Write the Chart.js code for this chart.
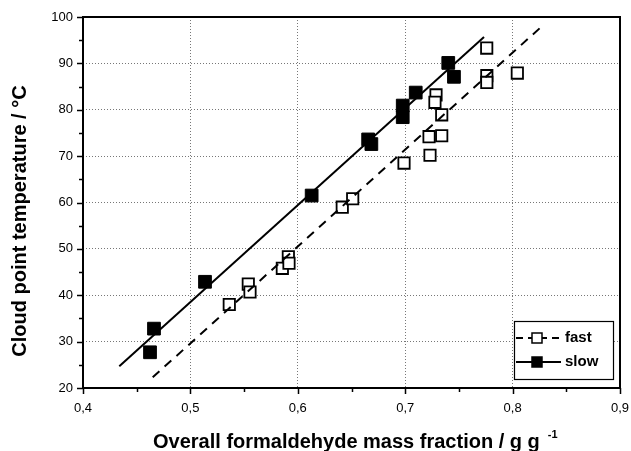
<!DOCTYPE html>
<html>
<head>
<meta charset="utf-8">
<script src="https://cdn.jsdelivr.net/npm/chart.js@4/dist/chart.umd.min.js"></script>
<style>
  html, body { margin: 0; padding: 0; background: #fff; }
  canvas { display: block; }
</style>
</head>
<body>
<canvas id="cloudChart" width="631" height="451"></canvas>
<script>
// Cloud point data
const fastX = [0.5362, 0.5539, 0.5555, 0.5856, 0.5912, 0.5918, 0.6414, 0.6511, 0.6989, 0.7222, 0.7231, 0.734, 0.734, 0.7287, 0.7277, 0.7759, 0.776, 0.776, 0.8044];
const fastY = [38.0, 42.4, 40.7, 45.8, 48.3, 46.9, 59.0, 60.8, 68.5, 74.2, 70.2, 74.4, 78.9, 83.2, 81.6, 93.3, 87.35, 85.9, 87.9];
const slowX = [0.4624, 0.4661, 0.5136, 0.6129, 0.6655, 0.6685, 0.6977, 0.6977, 0.7098, 0.7401, 0.7454];
const slowY = [27.7, 32.8, 42.9, 61.5, 73.6, 72.6, 80.9, 78.4, 83.7, 90.1, 87.1];

// fitted lines (end points)
const fastFitX = [0.4649, 0.8292];
const fastFitY = [22.3, 98.4];
const slowFitX = [0.4338, 0.7734];
const slowFitY = [24.7, 95.7];

const xTicks = [0.4, 0.5, 0.6, 0.7, 0.8, 0.9];
const yTicks = [20, 30, 40, 50, 60, 70, 80, 90, 100];

const pts = (xs, ys) => xs.map((x, i) => ({x: x, y: ys[i]}));
const isMajor = (v, list) => list.some(t => Math.abs(t - v) < 1e-6);

const FONT = '"Liberation Sans", Arial, sans-serif';

// frame, tick marks, axis titles and legend
const decor = {
  id: 'decor',
  afterDraw(chart) {
    const ctx = chart.ctx;
    const a = chart.chartArea;
    const xs = chart.scales.x, ys = chart.scales.y;
    ctx.save();
    ctx.strokeStyle = '#000';
    ctx.lineWidth = 1.5;
    // minor / major ticks
    ctx.beginPath();
    xs.ticks.forEach(t => {
      const px = Math.round(xs.getPixelForValue(t.value)) + 0.5;
      const len = isMajor(t.value, xTicks) ? 6 : 4;
      ctx.moveTo(px, a.bottom); ctx.lineTo(px, a.bottom + len);
    });
    ys.ticks.forEach(t => {
      const py = Math.round(ys.getPixelForValue(t.value)) + 0.5;
      const len = isMajor(t.value, yTicks) ? 6 : 4;
      ctx.moveTo(a.left, py); ctx.lineTo(a.left - len, py);
    });
    ctx.stroke();
    // frame
    ctx.lineWidth = 2;
    ctx.strokeRect(a.left, a.top, a.right - a.left, a.bottom - a.top);

    // legend
    const lx = 514.5, ly = 321.5, lw = 99, lh = 58;
    ctx.fillStyle = '#fff';
    ctx.fillRect(lx, ly, lw, lh);
    ctx.lineWidth = 1.2;
    ctx.strokeRect(lx, ly, lw, lh);
    const rows = [{y: 338, dash: [7, 5], fill: '#fff', label: 'fast'},
                  {y: 362, dash: [], fill: '#000', label: 'slow'}];
    rows.forEach(r => {
      ctx.setLineDash(r.dash);
      ctx.lineWidth = 2;
      ctx.beginPath();
      ctx.moveTo(516, r.y); ctx.lineTo(561, r.y);
      ctx.stroke();
      ctx.setLineDash([]);
      ctx.fillStyle = r.fill;
      ctx.fillRect(532, r.y - 5, 10, 10);
      ctx.lineWidth = 1.5;
      ctx.strokeRect(532, r.y - 5, 10, 10);
      ctx.fillStyle = '#000';
      ctx.font = 'bold 15px ' + FONT;
      ctx.textBaseline = 'middle';
      ctx.textAlign = 'left';
      ctx.fillText(r.label, 565, r.y);
    });

    // axis titles
    ctx.fillStyle = '#000';
    ctx.font = 'bold 20px ' + FONT;
    ctx.textBaseline = 'alphabetic';
    ctx.textAlign = 'left';
    const xt = 'Overall formaldehyde mass fraction / g g';
    ctx.fillText(xt, 153, 448);
    const w = ctx.measureText(xt).width;
    ctx.font = 'bold 11px ' + FONT;
    ctx.fillText('-1', 153 + w + 8, 438);

    ctx.translate(26, 221);
    ctx.rotate(-Math.PI / 2);
    ctx.font = 'bold 20px ' + FONT;
    ctx.textAlign = 'center';
    ctx.fillText('Cloud point temperature / °C', 0, 0);
    ctx.restore();
  }
};

new Chart('cloudChart', {
  type: 'scatter',
  data: {
    datasets: [{
      type: 'line',
      label: 'fast fit',
      data: pts(fastFitX, fastFitY),
      borderColor: '#000',
      borderWidth: 2,
      borderDash: [9, 7],
      pointRadius: 0,
      fill: false
    }, {
      type: 'line',
      label: 'slow fit',
      data: pts(slowFitX, slowFitY),
      borderColor: '#000',
      borderWidth: 2,
      pointRadius: 0,
      fill: false
    }, {
      label: 'fast',
      data: pts(fastX, fastY),
      pointStyle: 'rect',
      pointRadius: 8,
      pointBackgroundColor: '#fff',
      pointBorderColor: '#000',
      pointBorderWidth: 1.8
    }, {
      label: 'slow',
      data: pts(slowX, slowY),
      pointStyle: 'rect',
      pointRadius: 9,
      pointBackgroundColor: '#000',
      pointBorderColor: '#000',
      pointBorderWidth: 1
    }]
  },
  options: {
    responsive: false,
    animation: false,
    devicePixelRatio: 1,
    layout: { padding: { left: 0, right: 11, top: 17, bottom: 0 } },
    plugins: {
      legend: { display: false },
      tooltip: { enabled: false }
    },
    scales: {
      x: {
        type: 'linear',
        min: 0.4, max: 0.9,
        afterFit: (s) => { s.height = 63; s.paddingLeft = 0; s.paddingRight = 0; },
        afterBuildTicks: (s) => {
          s.ticks = [];
          for (let i = 0; i <= 10; i++) s.ticks.push({value: 0.4 + i * 0.05});
        },
        ticks: {
          autoSkip: false, maxRotation: 0, padding: 13,
          color: '#000',
          font: { family: FONT, size: 13 },
          callback: (v) => isMajor(v, xTicks) ? v.toFixed(1).replace('.', ',') : ''
        },
        grid: {
          drawTicks: false,
          lineWidth: 1,
          color: (c) => (c.tick && isMajor(c.tick.value, xTicks) && c.tick.value > 0.41 && c.tick.value < 0.89) ? '#777' : 'rgba(0,0,0,0)'
        },
        border: { display: false, dash: [1, 2] }
      },
      y: {
        type: 'linear',
        min: 20, max: 100,
        afterFit: (s) => { s.width = 83; s.paddingTop = 0; s.paddingBottom = 0; },
        afterBuildTicks: (s) => {
          s.ticks = [];
          for (let v = 20; v <= 100; v += 5) s.ticks.push({value: v});
        },
        ticks: {
          autoSkip: false, padding: 10,
          color: '#000',
          font: { family: FONT, size: 13 },
          callback: (v) => isMajor(v, yTicks) ? String(v) : ''
        },
        grid: {
          drawTicks: false,
          lineWidth: 1,
          color: (c) => (c.tick && isMajor(c.tick.value, yTicks) && c.tick.value > 21 && c.tick.value < 99) ? '#777' : 'rgba(0,0,0,0)'
        },
        border: { display: false, dash: [1, 2] }
      }
    }
  },
  plugins: [decor]
});
</script>
</body>
</html>
